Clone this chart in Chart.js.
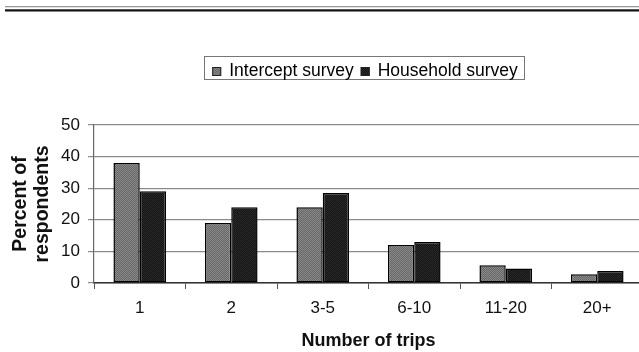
<!DOCTYPE html>
<html>
<head>
<meta charset="utf-8">
<script src="https://cdn.jsdelivr.net/npm/chart.js@4/dist/chart.umd.min.js"></script>
<style>
  html, body { margin: 0; padding: 0; background: #fff; overflow: hidden; }
  #wrap { position: relative; width: 646px; height: 352px; }
</style>
</head>
<body>
<div id="wrap"><canvas id="c" width="646" height="352"></canvas></div>
<script>
// Trip frequency by survey type
const categories = ['1', '2', '3-5', '6-10', '11-20', '20+'];
const interceptSurvey = [38, 19, 24, 12, 5.6, 2.8];
const householdSurvey = [29, 24, 28.5, 13, 4.6, 3.8];
const seriesNames = ['Intercept survey', 'Household survey'];
const yTicks = [0, 10, 20, 30, 40, 50];

const FONT = '"Liberation Sans", Arial, sans-serif';

// halftone-like fills for the bars
function dither(a, b) {
  const p = document.createElement('canvas');
  p.width = 2; p.height = 2;
  const g = p.getContext('2d');
  g.fillStyle = a; g.fillRect(0, 0, 2, 2);
  g.fillStyle = b; g.fillRect(0, 0, 1, 1); g.fillRect(1, 1, 1, 1);
  return g.createPattern(p, 'repeat');
}
const ctx0 = document.getElementById('c').getContext('2d');
const fillIntercept = dither('#666666', '#8a8a8a');
const fillHousehold = dither('#141414', '#2a2a2a');

// double rule across the top of the page
const topRules = {
  id: 'topRules',
  beforeDraw(chart) {
    const c = chart.ctx;
    c.save();
    c.fillStyle = '#9a9a9a';
    c.fillRect(5, 6, 640, 1.3);
    c.fillStyle = '#111';
    c.fillRect(5, 9.3, 640, 2.2);
    c.restore();
  }
};

// boxed legend drawn above the plot
const boxLegend = {
  id: 'boxLegend',
  afterDraw(chart) {
    const c = chart.ctx;
    c.save();
    c.font = '17.5px ' + FONT;
    const ds = chart.data.datasets;
    const sw = 9, padL = 8, gapSw = 8, gapItem = 7, padR = 6;
    let total = padL;
    ds.forEach((d, i) => {
      total += sw + gapSw + c.measureText(d.label).width;
      total += (i < ds.length - 1) ? gapItem : padR;
    });
    const cx = 364;
    const x0 = cx - total / 2, y0 = 56, h = 23;
    c.strokeStyle = '#777';
    c.lineWidth = 1;
    c.strokeRect(Math.round(x0) + 0.5, y0 + 0.5, Math.round(total), h);
    let x = x0 + padL;
    c.textBaseline = 'alphabetic';
    ds.forEach((d, i) => {
      c.fillStyle = d.backgroundColor;
      c.fillRect(x, 67, sw, sw);
      c.strokeStyle = '#222';
      c.strokeRect(x + 0.5, 67.5, sw - 1, sw - 1);
      x += sw + gapSw;
      c.fillStyle = '#000';
      c.fillText(d.label, x, 75.5);
      x += c.measureText(d.label).width + gapItem;
    });
    c.restore();
  }
};

new Chart(ctx0, {
  type: 'bar',
  data: {
    labels: categories,
    datasets: [
      {
        label: seriesNames[0],
        data: interceptSurvey,
        backgroundColor: fillIntercept,
        borderColor: '#000',
        borderWidth: 1.5,
        borderSkipped: false,
        categoryPercentage: 0.575,
        barPercentage: 1.0
      },
      {
        label: seriesNames[1],
        data: householdSurvey,
        backgroundColor: fillHousehold,
        borderColor: '#000',
        borderWidth: 1.5,
        borderSkipped: false,
        categoryPercentage: 0.575,
        barPercentage: 1.0
      }
    ]
  },
  options: {
    responsive: false,
    animation: false,
    devicePixelRatio: 1,
    layout: { padding: { top: 125, right: 3, bottom: 0, left: 0 } },
    plugins: {
      legend: { display: false },
      tooltip: { enabled: false }
    },
    scales: {
      x: {
        afterFit(s) { s.height = 69; },
        grid: {
          display: true,
          drawOnChartArea: false,
          drawTicks: true,
          tickLength: 6,
          color: '#555',
          offset: true
        },
        border: { display: true, color: '#333', width: 1.5 },
        ticks: {
          color: '#111',
          font: { family: FONT, size: 17 },
          padding: 9
        },
        title: {
          display: true,
          text: 'Number of trips',
          color: '#111',
          font: { family: FONT, size: 18, weight: 'bold' },
          padding: { top: 5, bottom: 0 }
        }
      },
      y: {
        min: 0,
        max: 50,
        afterFit(s) { s.width = 94; },
        afterBuildTicks(s) { s.ticks = yTicks.map(v => ({ value: v })); },
        grid: {
          color: '#8a8a8a',
          lineWidth: 1.2,
          drawTicks: true,
          tickLength: 6
        },
        border: { display: true, color: '#666', width: 1.2 },
        ticks: {
          color: '#111',
          font: { family: FONT, size: 17 },
          padding: 8
        },
        title: {
          display: true,
          text: ['Percent of', 'respondents'],
          color: '#111',
          font: { family: FONT, size: 19.5, weight: 'bold', lineHeight: 1.13 },
          padding: { top: 10, bottom: 0 }
        }
      }
    }
  },
  plugins: [topRules, boxLegend]
});
</script>
</body>
</html>
